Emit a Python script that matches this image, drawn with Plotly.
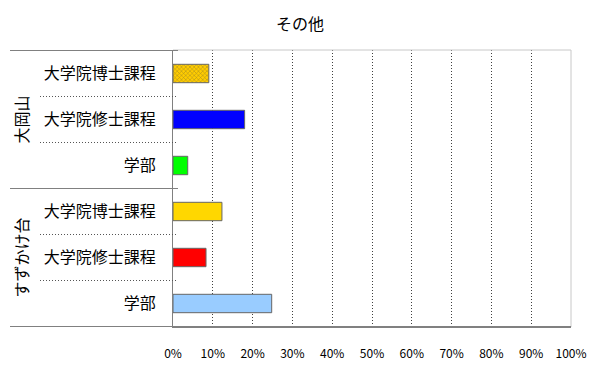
import plotly.graph_objects as go

# Data
groups = ["大岡山", "大岡山", "大岡山", "すずかけ台", "すずかけ台", "すずかけ台"]
degrees = ["大学院博士課程", "大学院修士課程", "学部", "大学院博士課程", "大学院修士課程", "学部"]
values = [0.09, 0.18, 0.037, 0.123, 0.083, 0.248]
colors = ["#FFCC00", "#0000FF", "#00FF00", "#FFD700", "#FF0000", "#99CCFF"]
patterns = ["x", "", "", "", "", ""]
group_names = ["大岡山", "すずかけ台"]
title_text = "その他"

keys = [f"{g}|{d}" for g, d in zip(groups, degrees)]
font_family = "Noto Sans CJK JP"

OFF = 8  # page body margin
FW, FH = 600 - OFF, 372 - OFF

fig = go.Figure()
fig.add_trace(go.Bar(
    x=values, y=keys, orientation="h",
    width=0.4,
    marker=dict(
        color=colors,
        line=dict(color="#666666", width=1),
        pattern=dict(shape=patterns, fgcolor="#FF0000", bgcolor=colors, size=3, solidity=0.3),
    ),
    hoverinfo="x+y",
))

L, T = 173 - OFF, 50 - OFF
R = FW - (571 - OFF)
B = FH - (327 - OFF)
W = FW - L - R

def px(x):
    return (x - OFF - L) / W

shapes = []
line_gray = "#808080"
light_gray = "#C8C8C8"
shapes.append(dict(type="line", xref="paper", yref="paper", x0=0, x1=1, y0=1, y1=1,
                   line=dict(color=light_gray, width=1)))
shapes.append(dict(type="line", xref="paper", yref="paper", x0=1, x1=1, y0=0, y1=1,
                   line=dict(color=light_gray, width=1)))
for yv in [-0.5, 2.5]:
    shapes.append(dict(type="line", xref="paper", yref="y", x0=px(10), x1=px(178), y0=yv, y1=yv,
                       line=dict(color=line_gray, width=1)))
shapes.append(dict(type="line", xref="paper", yref="y", x0=px(10), x1=1, y0=5.5, y1=5.5,
                   line=dict(color=line_gray, width=1)))
for yv in [0.5, 1.5, 3.5, 4.5]:
    shapes.append(dict(type="line", xref="paper", yref="y", x0=px(40), x1=px(178), y0=yv, y1=yv,
                       line=dict(color="#555555", width=1, dash="1px,2px")))

annotations = []
for name, yc in zip(group_names, [keys[1], keys[4]]):
    annotations.append(dict(text=name, xref="paper", yref="y", x=px(20), y=yc, textangle=-90,
                            xanchor="center", yanchor="middle",
                            showarrow=False, font=dict(size=16, color="black", family=font_family)))

fig.update_layout(
    width=FW, height=FH,
    margin=dict(l=L, r=R, t=T, b=B, autoexpand=False),
    paper_bgcolor="white", plot_bgcolor="white",
    title=dict(text=title_text, xref="container", x=(300 - OFF) / FW, xanchor="center",
               yref="container", y=1 - (24 - OFF) / FH, yanchor="middle",
               font=dict(size=16, color="black", family=font_family)),
    font=dict(family=font_family, color="black"),
    showlegend=False,
    shapes=shapes,
    annotations=annotations,
)
fig.update_xaxes(
    range=[0, 1], tickvals=[i / 10 for i in range(1, 10)],
    showgrid=True, gridcolor="#404040", griddash="1px,2px", gridwidth=1,
    zeroline=False, showline=True, linecolor=line_gray, linewidth=1,
    ticks="", showticklabels=False,
    fixedrange=True, automargin=False,
)
fig.update_layout(xaxis2=dict(
    overlaying="x", side="bottom", range=[0, 1], tickvals=[i / 10 for i in range(11)],
    tickformat=".0%", showgrid=False, zeroline=False, showline=False, ticks="",
    ticklabelstandoff=18, tickfont=dict(size=12, family=font_family, color="black"),
    fixedrange=True, automargin=False, matches="x",
))
fig.add_trace(go.Scatter(x=[0, 1], y=[keys[0], keys[0]], xaxis="x2", mode="markers",
                         marker=dict(opacity=0), hoverinfo="skip", showlegend=False))
fig.update_yaxes(
    type="category", categoryorder="array", categoryarray=keys, autorange="reversed",
    tickvals=keys, ticktext=degrees,
    showgrid=False, zeroline=False, showline=True, linecolor=line_gray, linewidth=1,
    ticks="", ticklabelstandoff=13, tickfont=dict(size=16, family=font_family, color="black"),
    fixedrange=True, automargin=False,
)

fig.write_html("out.html")
